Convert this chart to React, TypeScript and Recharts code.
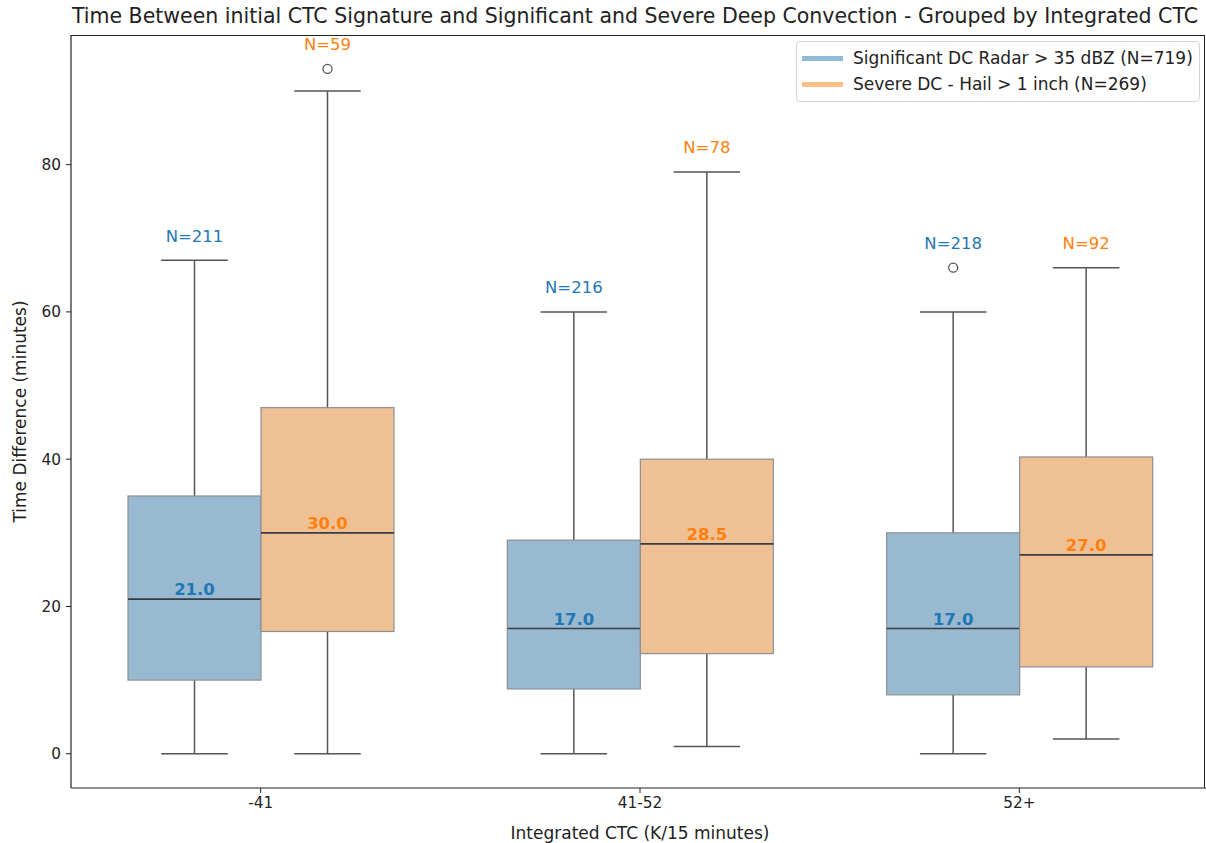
import React from "react";
import { ComposedChart, Bar, XAxis, YAxis, Legend } from "recharts";

// Box-plot summaries per Integrated CTC bin
const categories = ["-41", "41-52", "52+"];

const sigLow = [0, 0, 0];
const sigQ1 = [10, 8.8, 8];
const sigMedian = [21, 17, 17];
const sigQ3 = [35, 29, 30];
const sigHigh = [67, 60, 60];
const sigOutliers = [[], [], [66]];
const sigCounts = [211, 216, 218];

const sevLow = [0, 1, 2];
const sevQ1 = [16.6, 13.6, 11.8];
const sevMedian = [30, 28.5, 27];
const sevQ3 = [47, 40, 40.3];
const sevHigh = [90, 79, 66];
const sevOutliers = [[93], [], []];
const sevCounts = [59, 78, 92];

const legendLabels = [
  "Significant DC Radar > 35 dBZ (N=719)",
  "Severe DC - Hail > 1 inch (N=269)",
];

type Stats = {
  low: number;
  q1: number;
  median: number;
  q3: number;
  high: number;
  outliers: number[];
  n: number;
};

const data = categories.map((cat, i) => ({
  cat,
  sig: {
    low: sigLow[i],
    q1: sigQ1[i],
    median: sigMedian[i],
    q3: sigQ3[i],
    high: sigHigh[i],
    outliers: sigOutliers[i],
    n: sigCounts[i],
  } as Stats,
  sev: {
    low: sevLow[i],
    q1: sevQ1[i],
    median: sevMedian[i],
    q3: sevQ3[i],
    high: sevHigh[i],
    outliers: sevOutliers[i],
    n: sevCounts[i],
  } as Stats,
}));

const FONT = "'DejaVu Sans', sans-serif";
const SIG_FILL = "#98b9d0";
const SEV_FILL = "#f0c095";
const SIG_TEXT = "#1f77b4";
const SEV_TEXT = "#ff7f0e";
const SIG_LEGEND = "#8fbbd9";
const SEV_LEGEND = "#ffbf86";
const WHISKER = "#555555";

// Draws a full box (box, median, whiskers, caps, fliers, labels) from the
// range bar geometry: the bar spans q1..q3 so its height gives the y scale.
function BoxShape(props: any) {
  const { x, y, width, height, stats, fill, textColor } = props;
  const s: Stats = stats;
  const top = Math.min(y, y + height);
  const h = Math.abs(height);
  const perUnit = h / (s.q3 - s.q1);
  const py = (v: number) => top + (s.q3 - v) * perUnit;
  const cx = x + width / 2;
  const capHalf = width / 4;
  const maxVal = Math.max(s.high, ...s.outliers);

  return (
    <g>
      <line x1={cx} x2={cx} y1={py(s.q3)} y2={py(s.high)} stroke={WHISKER} strokeWidth={1.5} />
      <line x1={cx} x2={cx} y1={py(s.q1)} y2={py(s.low)} stroke={WHISKER} strokeWidth={1.5} />
      <line x1={cx - capHalf} x2={cx + capHalf} y1={py(s.high)} y2={py(s.high)} stroke={WHISKER} strokeWidth={1.5} />
      <line x1={cx - capHalf} x2={cx + capHalf} y1={py(s.low)} y2={py(s.low)} stroke={WHISKER} strokeWidth={1.5} />
      <rect x={x} y={top} width={width} height={h} fill={fill} stroke="#8a8f95" strokeWidth={1.2} />
      <line x1={x} x2={x + width} y1={py(s.median)} y2={py(s.median)} stroke="#353c44" strokeWidth={1.6} />
      {s.outliers.map((o, k) => (
        <circle key={k} cx={cx} cy={py(o)} r={4.5} fill="none" stroke="#555" strokeWidth={1.3} />
      ))}
      <text
        x={cx}
        y={py(s.median) - 4}
        textAnchor="middle"
        fill={textColor}
        fontWeight="bold"
        fontSize={16.5}
        fontFamily={FONT}
      >
        {s.median.toFixed(1)}
      </text>
      <text
        x={cx}
        y={py(maxVal + 2) - 4}
        textAnchor="middle"
        fill={textColor}
        fontSize={16.5}
        fontFamily={FONT}
      >
        {`N=${s.n}`}
      </text>
    </g>
  );
}

function LegendBox() {
  const rows = [
    { label: legendLabels[0], color: SIG_LEGEND },
    { label: legendLabels[1], color: SEV_LEGEND },
  ];
  return (
    <div
      style={{
        border: "1px solid #d5d5d5",
        borderRadius: 4,
        background: "rgba(255,255,255,0.8)",
        padding: "3px 6px 4px 5px",
        fontFamily: FONT,
        fontSize: 17,
        color: "#222",
      }}
    >
      {rows.map((r) => (
        <div key={r.label} style={{ display: "flex", alignItems: "center", height: 26 }}>
          <span style={{ display: "inline-block", width: 41, height: 5, background: r.color, marginRight: 10 }} />
          <span style={{ whiteSpace: "nowrap" }}>{r.label}</span>
        </div>
      ))}
    </div>
  );
}

export default function App() {
  return (
    <div style={{ position: "relative", width: 1206, height: 843, background: "#fff", fontFamily: FONT, overflow: "hidden" }}>
      <style>{`body{margin:0;}`}</style>
      <div
        style={{
          position: "absolute",
          top: 4,
          left: 40,
          width: 1190,
          textAlign: "center",
          fontSize: 20.5,
          color: "#222",
          whiteSpace: "nowrap",
          lineHeight: "24px",
        }}
      >
        Time Between initial CTC Signature and Significant and Severe Deep Convection - Grouped by Integrated CTC
      </div>
      <ComposedChart
        width={1206}
        height={843}
        data={data}
        margin={{ top: 35, right: -3, bottom: 0, left: 0 }}
        barGap={0}
        style={{ fontFamily: FONT }}
      >
        <XAxis
          dataKey="cat"
          height={55}
          tick={{ fill: "#222", fontSize: 15.3 }}
          tickSize={5}
          tickMargin={4}
          axisLine={{ stroke: "#222", strokeWidth: 1.2 }}
          tickLine={{ stroke: "#222" }}
          label={{ value: "Integrated CTC (K/15 minutes)", position: "insideBottom", offset: 4, fill: "#222", fontSize: 17 }}
        />
        <YAxis
          type="number"
          width={71}
          domain={[-4.65, 97.6]}
          ticks={[0, 20, 40, 60, 80]}
          allowDataOverflow
          tick={{ fill: "#222", fontSize: 15.3 }}
          tickSize={5}
          tickMargin={5}
          axisLine={{ stroke: "#222", strokeWidth: 1.2 }}
          tickLine={{ stroke: "#222" }}
          label={{
            value: "Time Difference (minutes)",
            angle: -90,
            position: "insideLeft",
            offset: 20,
            fill: "#222",
            fontSize: 17,
            style: { textAnchor: "middle" },
          }}
        />
        <Bar
          dataKey={(d: any) => [d.sig.q1, d.sig.q3]}
          barSize={133}
          isAnimationActive={false}
          shape={(p: any) => <BoxShape {...p} stats={p.payload.sig} fill={SIG_FILL} textColor={SIG_TEXT} />}
        />
        <Bar
          dataKey={(d: any) => [d.sev.q1, d.sev.q3]}
          barSize={133}
          isAnimationActive={false}
          shape={(p: any) => <BoxShape {...p} stats={p.payload.sev} fill={SEV_FILL} textColor={SEV_TEXT} />}
        />
        <Legend
          layout="horizontal"
          verticalAlign="middle"
          align="center"
          content={() => <LegendBox />}
          wrapperStyle={{ top: 41, left: 796, width: "auto", height: "auto" }}
        />
      </ComposedChart>
      {/* axes frame: top and right spines */}
      <div
        style={{
          position: "absolute",
          left: 71,
          top: 35,
          width: 1133,
          height: 752,
          borderTop: "1.2px solid #222",
          borderRight: "1.2px solid #222",
          pointerEvents: "none",
        }}
      />
    </div>
  );
}
